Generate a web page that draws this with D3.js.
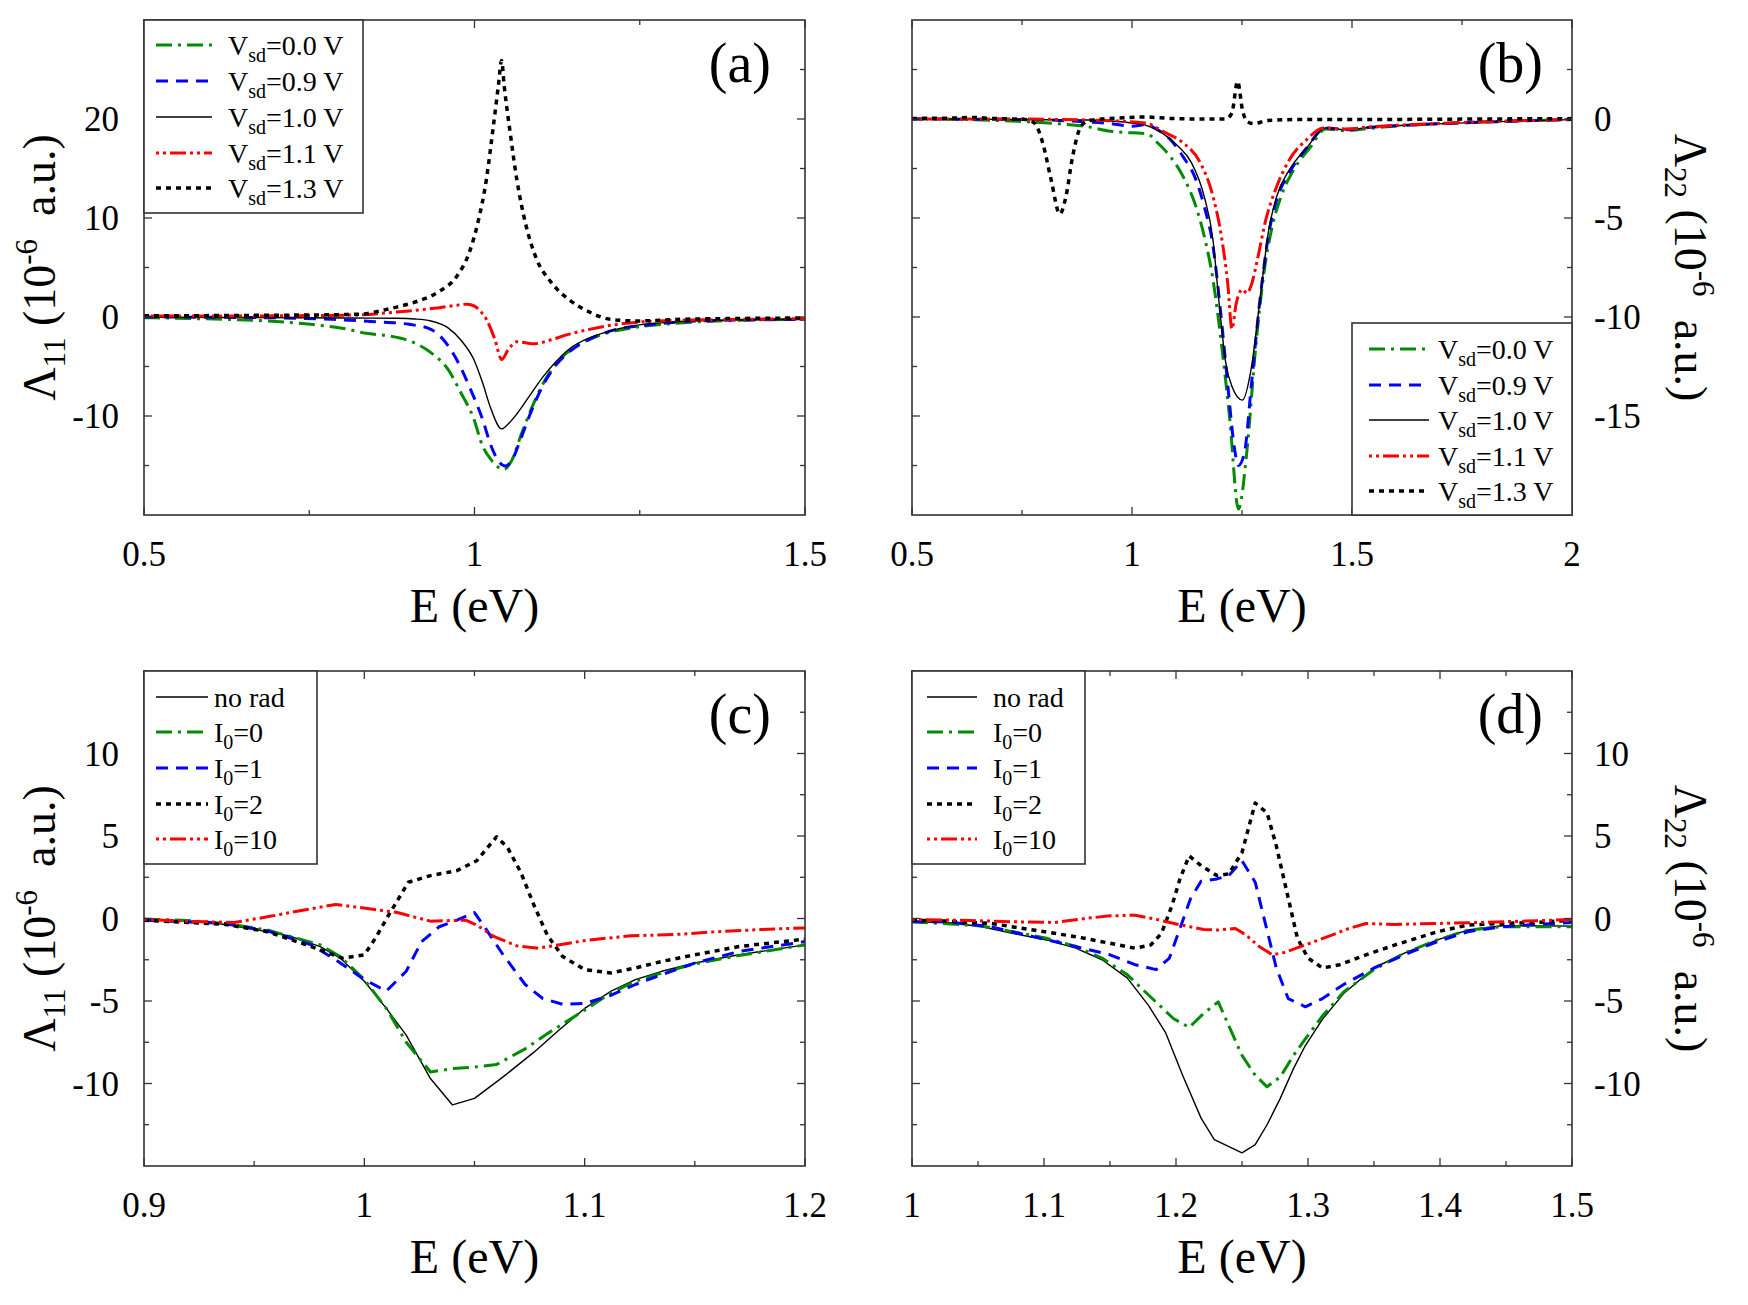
<!DOCTYPE html>
<html>
<head>
<meta charset="utf-8">
<script src="https://cdn.jsdelivr.net/npm/d3@7"></script>
<style>
  body { margin: 0; background: #fff; }
  text { font-family: "Liberation Serif", "Times New Roman", serif; fill: #000; }
</style>
</head>
<body>
<svg width="1748" height="1305"></svg>
<script>
// ---- panel (a): Lambda_11 vs E for several V_sd ----
const aVsd00 = [[0.5,-0.07],[0.622,-0.24],[0.687,-0.4],[0.752,-0.74],[0.804,-1.18],[0.836,-1.65],[0.869,-1.9],[0.901,-2.4],[0.934,-3.6],[0.96,-5.3],[0.979,-7.6],[0.999,-10.3],[1.012,-13.0],[1.025,-14.4],[1.044,-15.4],[1.057,-14.4],[1.07,-12.0],[1.09,-8.65],[1.109,-6.1],[1.129,-4.3],[1.155,-2.9],[1.194,-1.75],[1.239,-1.1],[1.304,-0.64],[1.4,-0.34],[1.5,-0.24]];
const aVsd09 = [[0.5,0],[0.687,-0.07],[0.784,-0.24],[0.849,-0.47],[0.901,-0.74],[0.934,-1.25],[0.953,-2.3],[0.973,-4.3],[0.992,-7.0],[1.012,-10.3],[1.025,-13.0],[1.038,-14.7],[1.047,-15.05],[1.057,-14.4],[1.07,-12.3],[1.083,-10.0],[1.103,-7.0],[1.122,-4.95],[1.142,-3.6],[1.174,-2.26],[1.206,-1.4],[1.271,-0.74],[1.336,-0.4],[1.5,-0.24]];
const aVsd10 = [[0.5,-0.02],[0.65,-0.05],[0.817,-0.1],[0.882,-0.13],[0.91,-0.2],[0.934,-0.4],[0.96,-1.1],[0.979,-2.3],[0.999,-4.3],[1.012,-6.6],[1.025,-9.3],[1.041,-11.3],[1.051,-10.8],[1.064,-9.8],[1.083,-8.0],[1.103,-6.1],[1.122,-4.6],[1.142,-3.3],[1.174,-2.1],[1.206,-1.4],[1.239,-0.9],[1.304,-0.5],[1.4,-0.3],[1.5,-0.24]];
const aVsd11 = [[0.5,0.1],[0.6,0.1],[0.7,0.12],[0.817,0.2],[0.882,0.5],[0.947,0.94],[0.975,1.2],[0.989,1.3],[1.0,1.1],[1.005,0.84],[1.018,-0.24],[1.031,-2.3],[1.041,-4.3],[1.051,-3.3],[1.064,-2.5],[1.077,-2.6],[1.09,-2.7],[1.116,-2.3],[1.142,-1.75],[1.174,-1.25],[1.206,-0.84],[1.239,-0.57],[1.304,-0.34],[1.4,-0.24],[1.5,-0.17]];
const aVsd13 = [[0.5,0.12],[0.6,0.14],[0.7,0.18],[0.78,0.22],[0.83,0.3],[0.856,0.6],[0.882,1.0],[0.914,1.6],[0.947,2.6],[0.973,4.1],[0.992,6.5],[1.005,9.5],[1.018,13.9],[1.028,19.0],[1.036,23.3],[1.041,25.9],[1.045,23.3],[1.054,18.6],[1.064,13.9],[1.077,9.5],[1.093,6.0],[1.116,3.5],[1.142,1.8],[1.174,0.5],[1.206,-0.24],[1.245,-0.4],[1.304,-0.25],[1.4,-0.15],[1.5,-0.1]];

// ---- panel (b): Lambda_22 vs E for several V_sd ----
const bVsd00 = [[0.5,0],[0.632,-0.03],[0.739,-0.12],[0.826,-0.23],[0.894,-0.37],[0.952,-0.62],[1.0,-0.7],[1.034,-0.74],[1.058,-1.2],[1.087,-1.9],[1.116,-2.9],[1.145,-4.4],[1.164,-5.9],[1.184,-8.1],[1.203,-11.3],[1.222,-15.1],[1.242,-19.7],[1.261,-16.8],[1.28,-11.8],[1.3,-7.75],[1.319,-5.4],[1.339,-3.9],[1.368,-2.55],[1.406,-1.4],[1.44,-0.5],[1.484,-0.59],[1.551,-0.45],[1.648,-0.29],[1.745,-0.2],[1.841,-0.12],[2.0,-0.03]];
const bVsd09 = [[0.5,0],[0.778,-0.03],[0.874,-0.12],[0.952,-0.23],[1.0,-0.37],[1.029,-0.29],[1.058,-0.54],[1.087,-1.04],[1.116,-1.9],[1.145,-3.05],[1.164,-4.4],[1.184,-6.4],[1.203,-10.1],[1.218,-13.5],[1.232,-16.5],[1.242,-17.5],[1.256,-16.8],[1.271,-13.5],[1.29,-9.3],[1.31,-5.9],[1.329,-4.06],[1.358,-2.7],[1.397,-1.46],[1.44,-0.45],[1.484,-0.54],[1.551,-0.4],[1.648,-0.29],[2.0,-0.03]];
const bVsd10 = [[0.5,0],[0.9,-0.05],[1.0,-0.2],[1.029,-0.3],[1.068,-0.7],[1.106,-1.4],[1.135,-2.2],[1.164,-3.9],[1.184,-6.1],[1.198,-9.3],[1.213,-12.3],[1.227,-13.5],[1.251,-14.2],[1.271,-12.6],[1.29,-9.3],[1.31,-5.7],[1.329,-3.9],[1.358,-2.55],[1.397,-1.46],[1.44,-0.45],[1.484,-0.54],[1.551,-0.4],[1.648,-0.29],[2.0,-0.03]];
const bVsd11 = [[0.5,0],[0.7,0],[0.9,-0.05],[1.029,-0.2],[1.077,-0.7],[1.116,-1.2],[1.155,-2.2],[1.184,-3.9],[1.203,-5.9],[1.218,-8.4],[1.227,-10.6],[1.237,-9.3],[1.251,-8.6],[1.261,-8.8],[1.271,-8.4],[1.285,-7.1],[1.304,-5.1],[1.329,-3.4],[1.358,-2.05],[1.397,-1.04],[1.435,-0.45],[1.484,-0.5],[1.551,-0.38],[1.648,-0.27],[2.0,-0.02]];
const bVsd13 = [[0.5,0.03],[0.6,0.05],[0.632,0.08],[0.681,0.03],[0.758,-0.03],[0.778,-0.2],[0.797,-1.2],[0.816,-3.05],[0.836,-4.8],[0.85,-3.9],[0.865,-1.9],[0.884,-0.37],[0.903,-0.08],[0.932,0],[0.971,0.05],[1.029,0.1],[1.087,0.03],[1.164,0],[1.213,0],[1.227,0.3],[1.24,1.9],[1.251,0.47],[1.261,-0.12],[1.276,-0.23],[1.31,-0.07],[1.4,-0.02],[1.6,-0.02],[1.8,0],[2.0,0.02]];

// ---- panel (c): Lambda_11 vs E for several I0 ----
const cNoRad = [[0.9,-0.04],[0.917,-0.12],[0.937,-0.36],[0.956,-0.8],[0.966,-1.05],[0.98,-1.7],[0.989,-2.4],[1.0,-3.8],[1.01,-5.45],[1.019,-7.07],[1.03,-9.7],[1.04,-11.3],[1.05,-10.9],[1.063,-9.6],[1.077,-8.1],[1.088,-6.8],[1.1,-5.45],[1.112,-4.4],[1.123,-3.7],[1.135,-3.2],[1.15,-2.7],[1.17,-2.2],[1.2,-1.6]];
const cI0 = [[0.9,-0.04],[0.917,-0.1],[0.937,-0.3],[0.956,-0.7],[0.98,-1.6],[0.989,-2.3],[1.0,-3.7],[1.01,-5.45],[1.019,-7.5],[1.03,-9.3],[1.04,-9.1],[1.05,-9.0],[1.06,-8.85],[1.073,-7.9],[1.084,-6.9],[1.1,-5.55],[1.112,-4.5],[1.123,-3.8],[1.135,-3.3],[1.15,-2.75],[1.17,-2.25],[1.2,-1.6]];
const cI1 = [[0.9,-0.1],[0.937,-0.3],[0.956,-0.75],[0.976,-1.6],[0.987,-2.5],[1.0,-3.7],[1.01,-4.4],[1.019,-3.2],[1.026,-1.4],[1.034,-0.5],[1.042,-0.1],[1.05,0.36],[1.055,-0.6],[1.063,-2.2],[1.073,-4.0],[1.081,-4.85],[1.09,-5.2],[1.1,-5.15],[1.112,-4.65],[1.123,-4.0],[1.135,-3.4],[1.15,-2.7],[1.17,-2.0],[1.2,-1.4]];
const cI2 = [[0.9,-0.1],[0.937,-0.36],[0.956,-0.8],[0.976,-1.7],[0.99,-2.4],[1.0,-2.2],[1.005,-1.2],[1.011,0.2],[1.02,2.2],[1.03,2.6],[1.042,2.9],[1.051,3.5],[1.06,4.95],[1.065,4.3],[1.071,2.8],[1.077,0.8],[1.083,-1.0],[1.09,-2.3],[1.1,-3.1],[1.112,-3.3],[1.123,-3.0],[1.135,-2.6],[1.15,-2.2],[1.17,-1.7],[1.2,-1.25]];
const cI10 = [[0.9,-0.04],[0.917,-0.16],[0.941,-0.24],[0.956,0.1],[0.972,0.5],[0.987,0.85],[0.999,0.65],[1.015,0.36],[1.03,-0.16],[1.046,-0.1],[1.051,-0.4],[1.059,-1.1],[1.069,-1.65],[1.079,-1.8],[1.088,-1.6],[1.102,-1.3],[1.121,-1.05],[1.141,-0.97],[1.16,-0.8],[1.18,-0.67],[1.2,-0.57]];

// ---- panel (d): Lambda_22 vs E for several I0 ----
const dNoRad = [[1.0,-0.2],[1.027,-0.24],[1.053,-0.5],[1.076,-0.9],[1.102,-1.3],[1.124,-1.8],[1.144,-2.5],[1.163,-3.6],[1.179,-5.25],[1.192,-6.9],[1.205,-9.5],[1.219,-12.1],[1.229,-13.4],[1.25,-14.2],[1.26,-13.7],[1.269,-12.5],[1.279,-10.9],[1.289,-9.1],[1.298,-7.7],[1.311,-6.1],[1.327,-4.55],[1.35,-3.0],[1.373,-2.1],[1.398,-1.3],[1.421,-0.7],[1.447,-0.44],[1.473,-0.44],[1.5,-0.46]];
const dI0 = [[1.0,-0.2],[1.053,-0.45],[1.076,-0.8],[1.102,-1.2],[1.124,-1.7],[1.144,-2.4],[1.163,-3.4],[1.182,-4.85],[1.198,-6.06],[1.21,-6.6],[1.221,-5.75],[1.232,-5.05],[1.24,-6.5],[1.25,-8.3],[1.26,-9.5],[1.269,-10.2],[1.279,-9.6],[1.289,-8.3],[1.298,-7.3],[1.311,-5.9],[1.327,-4.45],[1.35,-3.1],[1.373,-2.1],[1.398,-1.3],[1.421,-0.7],[1.447,-0.5],[1.5,-0.5]];
const dI1 = [[1.0,-0.2],[1.027,-0.2],[1.06,-0.5],[1.092,-1.1],[1.124,-1.7],[1.15,-2.2],[1.169,-2.8],[1.185,-3.1],[1.195,-2.4],[1.203,-0.6],[1.211,1.2],[1.219,2.26],[1.231,2.4],[1.24,2.6],[1.25,3.5],[1.26,2.2],[1.268,-0.4],[1.276,-3.0],[1.285,-4.85],[1.298,-5.35],[1.311,-4.85],[1.327,-4.0],[1.35,-3.0],[1.376,-2.1],[1.398,-1.4],[1.421,-0.8],[1.447,-0.5],[1.473,-0.36],[1.5,-0.24]];
const dI2 = [[1.0,-0.1],[1.027,-0.16],[1.06,-0.3],[1.092,-0.7],[1.124,-1.1],[1.15,-1.5],[1.169,-1.8],[1.181,-1.6],[1.189,-0.9],[1.197,0.8],[1.203,2.4],[1.21,3.8],[1.219,3.2],[1.231,2.6],[1.24,2.7],[1.25,4.0],[1.26,7.0],[1.269,6.4],[1.276,4.4],[1.284,1.6],[1.292,-1.2],[1.3,-2.4],[1.311,-3.0],[1.324,-2.8],[1.344,-2.2],[1.366,-1.6],[1.398,-0.8],[1.421,-0.4],[1.447,-0.3],[1.473,-0.24],[1.5,-0.1]];
const dI10 = [[1.0,-0.06],[1.044,-0.12],[1.076,-0.2],[1.108,-0.24],[1.131,0],[1.15,0.16],[1.169,0.2],[1.182,0],[1.202,-0.36],[1.221,-0.67],[1.232,-0.7],[1.245,-0.6],[1.253,-1.0],[1.263,-1.7],[1.273,-2.2],[1.282,-2.06],[1.298,-1.6],[1.315,-1.1],[1.331,-0.6],[1.344,-0.3],[1.366,-0.36],[1.398,-0.3],[1.431,-0.24],[1.463,-0.16],[1.5,-0.06]];

// tick values
const aXTicks = [0.5, 1, 1.5], aXMinor = [0.75, 1.25];
const aYTicks = [-10, 0, 10, 20], aYMinor = [-15, -5, 5, 15, 25];
const bXTicks = [0.5, 1, 1.5, 2], bXMinor = [0.75, 1.25, 1.75];
const bYTicks = [-15, -10, -5, 0], bYMinor = [-17.5, -12.5, -7.5, -2.5, 2.5];
const cXTicks = [0.9, 1, 1.1, 1.2], cXMinor = [0.95, 1.05, 1.15];
const cdYTicks = [-10, -5, 0, 5, 10], cdYMinor = [-12.5, -7.5, -2.5, 2.5, 7.5, 12.5];
const dXTicks = [1, 1.1, 1.2, 1.3, 1.4, 1.5], dXMinor = [1.05, 1.15, 1.25, 1.35, 1.45];

// legend labels
const vsdLabels = ["0.0", "0.9", "1.0", "1.1", "1.3"];
const i0Labels = ["no rad", "0", "1", "2", "10"];

const styles = {
  green:  { color: "#008b00", width: 3,   dash: "16,6,3,6" },
  blue:   { color: "#0000ff", width: 3,   dash: "12,8" },
  solid:  { color: "#000",    width: 1.4, dash: null },
  red:    { color: "#ff0000", width: 3,   dash: "3,4,3,4,16,4" },
  dotted: { color: "#000",    width: 3.5, dash: "5,5" },
};

const svg = d3.select("svg");

const panels = [
  { id: "a", box: [144, 805, 20, 515], xDomain: [0.5, 1.5], yDomain: [-20, 30],
    xTicks: aXTicks, xMinor: aXMinor, yTicks: aYTicks, yMinor: aYMinor, side: "left", sub: "11",
    curve: d3.curveMonotoneX,
    series: [[aVsd00, "green"], [aVsd09, "blue"], [aVsd10, "solid"], [aVsd11, "red"], [aVsd13, "dotted"]],
    legend: { box: [144, 363, 20, 213], rows: [45, 81, 117, 153, 188], sx: [156, 212], tx: 228, kind: "vsd" } },
  { id: "b", box: [912, 1572, 20, 515], xDomain: [0.5, 2], yDomain: [-20, 5],
    xTicks: bXTicks, xMinor: bXMinor, yTicks: bYTicks, yMinor: bYMinor, side: "right", sub: "22",
    curve: d3.curveMonotoneX,
    series: [[bVsd00, "green"], [bVsd09, "blue"], [bVsd10, "solid"], [bVsd11, "red"], [bVsd13, "dotted"]],
    legend: { box: [1352, 1572, 323, 515], rows: [349, 385, 420, 456, 491], sx: [1369, 1429], tx: 1438, kind: "vsd" } },
  { id: "c", box: [144, 805, 671, 1166], xDomain: [0.9, 1.2], yDomain: [-15, 15],
    xTicks: cXTicks, xMinor: cXMinor, yTicks: cdYTicks, yMinor: cdYMinor, side: "left", sub: "11",
    curve: d3.curveLinear,
    series: [[cNoRad, "solid"], [cI0, "green"], [cI1, "blue"], [cI2, "dotted"], [cI10, "red"]],
    legend: { box: [144, 317, 671, 864], rows: [697, 732, 768, 804, 839], sx: [156, 208], tx: 214, kind: "i0" } },
  { id: "d", box: [912, 1572, 671, 1166], xDomain: [1, 1.5], yDomain: [-15, 15],
    xTicks: dXTicks, xMinor: dXMinor, yTicks: cdYTicks, yMinor: cdYMinor, side: "right", sub: "22",
    curve: d3.curveLinear,
    series: [[dNoRad, "solid"], [dI0, "green"], [dI1, "blue"], [dI2, "dotted"], [dI10, "red"]],
    legend: { box: [912, 1085, 671, 864], rows: [697, 732, 768, 804, 839], sx: [927, 977], tx: 993, kind: "i0" } },
];

const legendStyleOrder = {
  vsd: ["green", "blue", "solid", "red", "dotted"],
  i0: ["solid", "green", "blue", "dotted", "red"],
};

panels.forEach(drawPanel);

function drawPanel(p) {
  const [x0, x1, y0, y1] = p.box;
  const x = d3.scaleLinear().domain(p.xDomain).range([x0, x1]);
  const y = d3.scaleLinear().domain(p.yDomain).range([y1, y0]);
  const g = svg.append("g").attr("class", "panel-" + p.id);

  const clipId = "clip-" + p.id;
  g.append("clipPath").attr("id", clipId)
    .append("rect").attr("x", x0).attr("y", y0).attr("width", x1 - x0).attr("height", y1 - y0);

  // curves
  const line = d3.line().x(d => x(d[0])).y(d => y(d[1])).curve(p.curve);
  const curves = g.append("g").attr("clip-path", `url(#${clipId})`);
  p.series.forEach(([data, key]) => {
    const s = styles[key];
    curves.append("path")
      .datum(data)
      .attr("d", line)
      .attr("fill", "none")
      .attr("stroke", s.color)
      .attr("stroke-width", s.width)
      .attr("stroke-dasharray", s.dash)
      .attr("stroke-linejoin", "round");
  });

  // ticks (inward, on all four sides)
  const ticks = g.append("g").attr("stroke", "#333").attr("stroke-width", 1.3);
  const major = 8, minor = 5;
  p.xTicks.map(v => [v, major]).concat(p.xMinor.map(v => [v, minor])).forEach(([v, len]) => {
    ticks.append("line").attr("x1", x(v)).attr("x2", x(v)).attr("y1", y1).attr("y2", y1 - len);
    ticks.append("line").attr("x1", x(v)).attr("x2", x(v)).attr("y1", y0).attr("y2", y0 + len);
  });
  p.yTicks.map(v => [v, major]).concat(p.yMinor.map(v => [v, minor])).forEach(([v, len]) => {
    ticks.append("line").attr("y1", y(v)).attr("y2", y(v)).attr("x1", x0).attr("x2", x0 + len);
    ticks.append("line").attr("y1", y(v)).attr("y2", y(v)).attr("x1", x1).attr("x2", x1 - len);
  });

  // frame
  g.append("rect")
    .attr("x", x0).attr("y", y0).attr("width", x1 - x0).attr("height", y1 - y0)
    .attr("fill", "none").attr("stroke", "#333").attr("stroke-width", 1.6);

  // tick labels
  g.selectAll(".xlab").data(p.xTicks).enter().append("text")
    .attr("class", "xlab")
    .attr("x", d => x(d)).attr("y", y1 + 51)
    .attr("text-anchor", "middle")
    .style("font-size", "35px")
    .text(d => String(+d.toFixed(2)));

  const left = p.side === "left";
  g.selectAll(".ylab").data(p.yTicks).enter().append("text")
    .attr("class", "ylab")
    .attr("x", left ? x0 - 25 : x1 + 22)
    .attr("y", d => y(d) + 12)
    .attr("text-anchor", left ? "end" : "start")
    .style("font-size", "35px")
    .text(d => String(d));

  // axis titles
  g.append("text")
    .attr("x", (x0 + x1) / 2).attr("y", y1 + 107)
    .attr("text-anchor", "middle")
    .style("font-size", "48px")
    .text("E (eV)");

  const cy = (y0 + y1) / 2;
  const yt = g.append("text")
    .attr("transform", left ? `translate(55,${cy}) rotate(-90)` : `translate(1675,${cy}) rotate(90)`)
    .attr("text-anchor", "middle")
    .style("font-size", "46px");
  yt.append("tspan").text("\u039b");
  yt.append("tspan").attr("dy", 10).style("font-size", "31px").text(p.sub);
  yt.append("tspan").attr("dy", -10).text(" (10");
  yt.append("tspan").attr("dy", -18).style("font-size", "31px").text("-6");
  yt.append("tspan").attr("dy", 18).text("\u00a0\u00a0a.u.)");

  // panel label
  g.append("text")
    .attr("x", left ? 771 : 1543)
    .attr("y", y0 + 62)
    .attr("text-anchor", "end")
    .style("font-size", "56px")
    .text(`(${p.id})`);

  drawLegend(g, p.legend);
}

function drawLegend(g, L) {
  const [lx0, lx1, ly0, ly1] = L.box;
  const lg = g.append("g");
  lg.append("rect")
    .attr("x", lx0).attr("y", ly0).attr("width", lx1 - lx0).attr("height", ly1 - ly0)
    .attr("fill", "#fff").attr("stroke", "#333").attr("stroke-width", 1.6);

  const order = legendStyleOrder[L.kind];
  order.forEach((key, i) => {
    const s = styles[key];
    const ry = L.rows[i];
    lg.append("line")
      .attr("x1", L.sx[0]).attr("x2", L.sx[1]).attr("y1", ry).attr("y2", ry)
      .attr("stroke", s.color).attr("stroke-width", s.width)
      .attr("stroke-dasharray", s.dash);

    const t = lg.append("text")
      .attr("x", L.tx).attr("y", ry + 10)
      .style("font-size", "28px");
    if (L.kind === "vsd") {
      t.append("tspan").text("V");
      t.append("tspan").attr("dy", 7).style("font-size", "20px").text("sd");
      t.append("tspan").attr("dy", -7).text(`=${vsdLabels[i]} V`);
    } else if (i === 0) {
      t.text(i0Labels[0]);
    } else {
      t.append("tspan").text("I");
      t.append("tspan").attr("dy", 7).style("font-size", "20px").text("0");
      t.append("tspan").attr("dy", -7).text(`=${i0Labels[i]}`);
    }
  });
}
</script>
</body>
</html>
